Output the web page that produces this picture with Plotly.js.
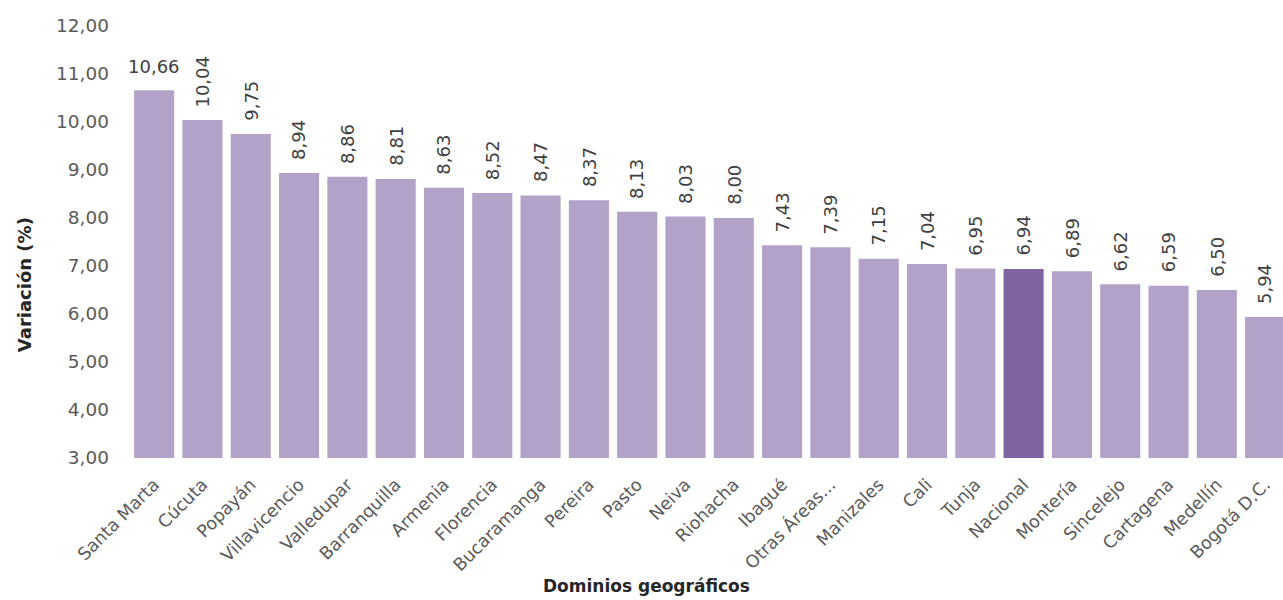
<!DOCTYPE html>
<html>
<head>
<meta charset="utf-8">
<script src="https://cdn.plot.ly/plotly-3.0.1.min.js"></script>
<style>html,body{margin:0;padding:0;background:#fff;}#chart{width:1283px;height:600px;}</style>
</head>
<body>
<div id="chart"></div>
<script>
const categories = ["Santa Marta","Cúcuta","Popayán","Villavicencio","Valledupar","Barranquilla","Armenia","Florencia","Bucaramanga","Pereira","Pasto","Neiva","Riohacha","Ibagué","Otras Áreas...","Manizales","Cali","Tunja","Nacional","Montería","Sincelejo","Cartagena","Medellín","Bogotá D.C."];
const values = [10.66,10.04,9.75,8.94,8.86,8.81,8.63,8.52,8.47,8.37,8.13,8.03,8.00,7.43,7.39,7.15,7.04,6.95,6.94,6.89,6.62,6.59,6.50,5.94];
const highlight = "Nacional";
const yTickVals = [3,4,5,6,7,8,9,10,11,12];
const xTitle = "Dominios geográficos";
const yTitle = "Variación (%)";

const baseColor = "#b3a2c7";
const hiColor = "#8064a2";
const font = "DejaVu Sans, Verdana, sans-serif";

const fmt = v => v.toFixed(2).replace(".", ",");

const trace = {
  type: "bar",
  x: categories,
  y: values.map(v => v - 3),
  base: 3,
  marker: { color: categories.map(c => c === highlight ? hiColor : baseColor) },
  hoverinfo: "skip"
};

const annotations = categories.map((c, i) => ({
  x: c, y: values[i], xref: "x", yref: "y",
  text: fmt(values[i]),
  showarrow: false,
  textangle: i === 0 ? 0 : -90,
  xanchor: "center", yanchor: "bottom",
  yshift: 11,
  font: { family: font, size: 18, color: "#404040" }
}));
annotations.push({
  xref: "paper", yref: "paper", x: 0.448, y: 0, yshift: -116,
  xanchor: "center", yanchor: "top", showarrow: false,
  text: "<b>" + xTitle + "</b>",
  font: { family: font, size: 17, color: "#262626" }
});
annotations.push({
  xref: "paper", yref: "paper", x: 0, xshift: -106, y: 0.40,
  xanchor: "center", yanchor: "middle", showarrow: false,
  textangle: -90,
  text: "<b>" + yTitle + "</b>",
  font: { family: font, size: 18, color: "#262626" }
});

const layout = {
  width: 1283, height: 600,
  margin: { l: 130, r: 0, t: 26, b: 142 },
  paper_bgcolor: "#ffffff", plot_bgcolor: "#ffffff",
  bargap: 0.17,
  showlegend: false,
  separators: ",.",
  xaxis: {
    type: "category",
    range: [-0.5, 23.37],
    tickangle: -45,
    showgrid: false, showline: false, zeroline: false, ticks: "",
    ticklabelstandoff: 12,
    tickfont: { family: font, size: 17.5, color: "#595959" },
    automargin: false, fixedrange: true
  },
  yaxis: {
    range: [3, 12],
    tickvals: yTickVals,
    ticktext: yTickVals.map(fmt),
    showgrid: false, showline: false, zeroline: false, ticks: "",
    ticklabelstandoff: 20,
    tickfont: { family: font, size: 18.5, color: "#595959" },
    automargin: false, fixedrange: true
  },
  annotations: annotations
};

Plotly.newPlot("chart", [trace], layout, { displayModeBar: false, staticPlot: true });
</script>
</body>
</html>
